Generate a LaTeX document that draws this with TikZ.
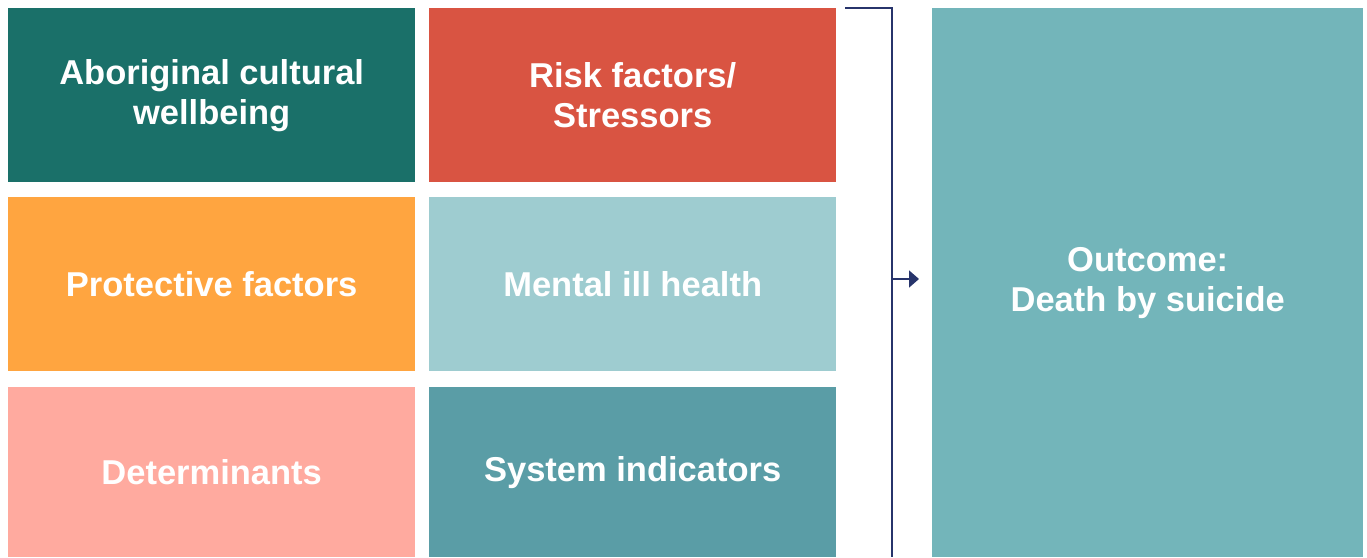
\documentclass[tikz,border=0pt]{standalone}
\usepackage{fontspec}
\setmainfont{Liberation Sans}
\usepackage{xcolor}
\usetikzlibrary{arrows.meta, positioning}
\definecolor{cultural}{HTML}{1A7069}
\definecolor{risk}{HTML}{D95442}
\definecolor{protect}{HTML}{FFA540}
\definecolor{mental}{HTML}{9ECCD0}
\definecolor{determ}{HTML}{FFAA9F}
\definecolor{system}{HTML}{5A9DA6}
\definecolor{outcome}{HTML}{73B5BA}
\definecolor{navy}{HTML}{27346B}
\tikzset{
  factor/.style={rectangle, anchor=north west, minimum width=407pt, minimum height=174pt, inner sep=0pt, align=center, text=white, font=\fontsize{34.5}{40}\selectfont\bfseries},
  result/.style={factor, minimum width=431pt, minimum height=549pt},
  link/.style={line width=1.6pt, navy},
  arr/.style={-{Triangle[length=10pt, width=17pt]}, line width=1.6pt, navy},
}
\begin{document}
\begin{tikzpicture}[x=1pt, y=-1pt]
\useasboundingbox (0,0) rectangle (1367,557);
% ---- factor grid ----
\node[factor, fill=cultural] (cult) at (8,8) {Aboriginal cultural\\ wellbeing};
\node[factor, fill=risk] (risk) at (429,8) {Risk factors/\\ Stressors};
\node[factor, fill=protect] (prot) at (8,197) {Protective factors};
\node[factor, fill=mental] (ment) at (429,197) {Mental ill health};
\node[factor, fill=determ, minimum height=170pt] (det) at (8,387) {Determinants};
\node[factor, fill=system, minimum height=170pt] (sys) at (429,387) {System indicators};
% ---- outcome ----
\node[result, fill=outcome] (out) at (932,8) {Outcome:\\ Death by suicide};
% bracket gathering the factors
\coordinate (brtop) at ([xshift=9pt]risk.north east);
\coordinate (brbot) at (892,557);
\coordinate (brmid) at (892,279);
\draw[link] (brtop) -| (brbot);
\draw[arr, shorten >=13pt] (brmid) -- (brmid -| out.west);
\end{tikzpicture}
\end{document}
